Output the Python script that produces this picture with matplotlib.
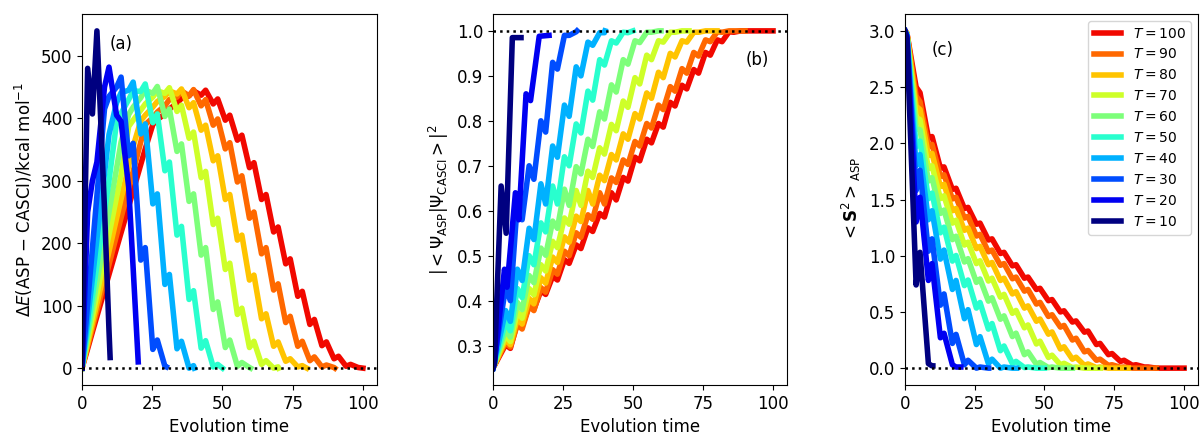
import matplotlib.pyplot as plt

plt.rcParams['xtick.labelsize'] = 12
plt.rcParams['ytick.labelsize'] = 12
plt.rcParams['axes.labelsize'] = 12

T_list = [100, 90, 80, 70, 60, 50, 40, 30, 20, 10]

# ---- panel (a): energy error, shared time grid (bumps / dips of the oscillation)
t_a = [0, 2.0, 3.7, 5.3, 8.0, 9.6, 12.3, 13.9, 16.6, 18.2, 20.9, 22.5, 25.2, 26.8,
       29.5, 31.1, 33.8, 35.4, 38.1, 39.7, 42.4, 44.0, 46.7, 48.3, 51.0, 52.6,
       55.3, 56.9, 59.6, 61.2, 63.9, 65.5, 68.2, 69.8, 72.5, 74.1, 76.8, 78.4,
       81.1, 82.7, 85.4, 87.0, 89.7, 91.3, 94.0, 95.6, 98.3]
dE_100 = [0, 31, 58, 83, 125, 150, 192, 217, 259, 284, 326, 351, 390, 398, 407, 415,
          424, 432, 436, 444, 437, 445, 423, 431, 397, 405, 365, 373, 321, 329, 270,
          278, 218, 226, 167, 175, 115, 123, 70, 78, 36, 42, 15, 19, 3, 6, 1, 0]
dE_90 = [0, 35, 64, 92, 139, 166, 213, 241, 288, 315, 362, 390, 401, 410, 420, 430,
         434, 444, 436, 446, 420, 430, 389, 399, 351, 361, 298, 308, 240, 250, 183,
         193, 125, 135, 73, 83, 35, 43, 12, 18, 2, 5, 1, 0]
dE_80 = [0, 39, 72, 103, 156, 187, 240, 271, 324, 355, 396, 405, 418, 427, 435, 444,
         439, 447, 417, 425, 381, 389, 332, 340, 270, 278, 205, 213, 141, 149, 79,
         87, 35, 42, 11, 15, 2, 4, 0]
dE_70 = [0, 45, 83, 118, 178, 214, 274, 310, 387, 397, 413, 423, 434, 444, 440, 449,
         411, 421, 368, 378, 305, 315, 230, 240, 158, 168, 86, 96, 33, 43, 6, 12, 0,
         2, 0]
dE_60 = [0, 52, 96, 138, 208, 250, 320, 362, 406, 418, 433, 445, 440, 451, 403, 415,
         347, 359, 267, 279, 181, 193, 94, 106, 33, 45, 3, 9, 1, 0]
dE_50 = [0, 62, 115, 165, 250, 300, 394, 408, 430, 444, 443, 455, 393, 407, 316, 330,
         213, 227, 110, 124, 32, 44, 2, 6, 0]
dE_40 = [0, 78, 144, 207, 312, 374, 425, 441, 445, 458, 375, 391, 263, 279, 134, 150,
         31, 43, 0, 4, 0]
dE_30 = [0, 104, 192, 276, 415, 435, 450, 466, 340, 360, 173, 193, 30, 45, 3, 2]
dE_20 = [0, 250, 300, 330, 450, 482, 405, 395, 290, 160, 10]
dE_10 = [0, 480, 407, 540, 255, 60, 17]

# ---- panel (b): overlap, shared time grid (step tops / step ends)
t_b = [0, 4.5, 6.2, 8.7, 10.4, 12.9, 14.6, 17.1, 18.8, 21.3, 23.0, 25.5, 27.2, 29.7,
       31.4, 33.9, 35.6, 38.1, 39.8, 42.3, 44.0, 46.5, 48.2, 50.7, 52.4, 54.9, 56.6,
       59.1, 60.8, 63.3, 65.0, 67.5, 69.2, 71.7, 73.4, 75.9, 77.6, 80.1, 81.8, 84.3,
       86.0, 88.5, 90.2, 92.7, 94.4, 96.9, 98.6]
ov_100 = [0.25, 0.302, 0.294, 0.351, 0.343, 0.389, 0.381, 0.422, 0.414, 0.454, 0.446,
          0.491, 0.483, 0.524, 0.516, 0.562, 0.554, 0.594, 0.586, 0.640, 0.624, 0.674,
          0.666, 0.719, 0.711, 0.759, 0.751, 0.794, 0.786, 0.841, 0.833, 0.879, 0.871,
          0.914, 0.906, 0.952, 0.946, 0.980, 0.976, 0.998, 0.997, 1.0, 1.0, 1.0, 1.0,
          1.0, 1.0, 1.0]
ov_90 = [0.25, 0.307, 0.297, 0.347, 0.337, 0.388, 0.378, 0.429, 0.419, 0.469, 0.459,
         0.510, 0.500, 0.551, 0.541, 0.591, 0.581, 0.640, 0.615, 0.673, 0.663, 0.713,
         0.703, 0.754, 0.744, 0.794, 0.784, 0.835, 0.825, 0.876, 0.866, 0.916, 0.906,
         0.952, 0.944, 0.980, 0.976, 0.998, 0.997, 1.0, 1.0, 1.0, 1.0]
ov_80 = [0.25, 0.314, 0.302, 0.360, 0.348, 0.405, 0.393, 0.451, 0.439, 0.497, 0.485,
         0.542, 0.530, 0.588, 0.576, 0.645, 0.615, 0.679, 0.667, 0.725, 0.713, 0.771,
         0.759, 0.816, 0.804, 0.862, 0.850, 0.908, 0.896, 0.950, 0.942, 0.978, 0.975,
         0.997, 0.997, 1.0, 1.0, 1.0]
ov_70 = [0.25, 0.323, 0.309, 0.375, 0.361, 0.427, 0.413, 0.480, 0.466, 0.532, 0.518,
         0.584, 0.570, 0.645, 0.612, 0.688, 0.674, 0.740, 0.726, 0.792, 0.778, 0.844,
         0.830, 0.896, 0.882, 0.946, 0.936, 0.978, 0.975, 0.997, 0.997, 1.0, 1.0, 1.0]
ov_60 = [0.25, 0.335, 0.319, 0.396, 0.380, 0.456, 0.440, 0.517, 0.501, 0.577, 0.561,
         0.648, 0.612, 0.698, 0.682, 0.759, 0.743, 0.820, 0.804, 0.880, 0.864, 0.936,
         0.926, 0.978, 0.974, 0.997, 0.997, 1.0, 1.0]
ov_50 = [0.25, 0.353, 0.333, 0.427, 0.407, 0.500, 0.480, 0.573, 0.553, 0.655, 0.615,
         0.720, 0.700, 0.793, 0.773, 0.866, 0.846, 0.936, 0.924, 0.978, 0.973, 0.997,
         0.996, 1.0]
ov_40 = [0.25, 0.378, 0.354, 0.470, 0.445, 0.561, 0.536, 0.660, 0.615, 0.744, 0.719,
         0.835, 0.810, 0.920, 0.900, 0.975, 0.968, 0.996, 0.996, 1.0]
ov_30 = [0.25, 0.43, 0.40, 0.62, 0.58, 0.70, 0.67, 0.80, 0.775, 0.93, 0.915, 0.99,
         0.99, 0.998, 1.0]
t_b20 = [0, 0.5, 4.1, 5.0, 8.0, 9.2, 11.8, 13.4, 16.5, 20]
ov_20 = [0.25, 0.26, 0.47, 0.43, 0.64, 0.58, 0.86, 0.845, 0.988, 0.99]
t_b10 = [0, 0.5, 2.9, 4.7, 6.9, 10]
ov_10 = [0.25, 0.26, 0.655, 0.55, 0.985, 0.985]

# ---- panel (c): <S^2>, shared time grid (dips / bumps)
t_c = [0, 0.7, 4.0, 5.4, 8.4, 9.7, 12.7, 14.0, 17.0, 18.3, 21.3, 22.6, 25.6, 26.9,
       29.9, 31.2, 34.2, 35.5, 38.5, 39.8, 42.8, 44.1, 47.1, 48.4, 51.4, 52.7, 55.7,
       57.0, 60.0, 61.3, 64.3, 65.6, 68.6, 69.9, 72.9, 74.2, 77.2, 78.5, 81.5, 82.8,
       85.8, 87.1, 90.1, 91.4, 94.4, 95.7]
s2_100 = [3.0, 2.98, 2.50, 2.45, 2.05, 2.06, 1.78, 1.79, 1.59, 1.60, 1.42, 1.43, 1.28,
          1.29, 1.14, 1.15, 1.02, 1.03, 0.91, 0.92, 0.80, 0.81, 0.70, 0.71, 0.60, 0.61,
          0.50, 0.51, 0.41, 0.42, 0.32, 0.33, 0.21, 0.22, 0.12, 0.13, 0.06, 0.07,
          0.025, 0.03, 0.01, 0.01, 0.0, 0.0, 0.0, 0.0, 0.0]
s2_90 = [3.0, 2.98, 2.42, 2.37, 1.975, 1.99, 1.705, 1.72, 1.505, 1.52, 1.335, 1.35,
         1.175, 1.19, 1.035, 1.05, 0.915, 0.93, 0.795, 0.81, 0.685, 0.70, 0.57, 0.585,
         0.46, 0.475, 0.365, 0.38, 0.25, 0.266, 0.145, 0.157, 0.07, 0.08, 0.025, 0.03,
         0.008, 0.01, 0.0, 0.0, 0.0, 0.0, 0.0]
s2_80 = [3.0, 2.98, 2.33, 2.30, 1.89, 1.91, 1.615, 1.635, 1.40, 1.42, 1.226, 1.246,
         1.063, 1.083, 0.92, 0.94, 0.78, 0.80, 0.66, 0.68, 0.534, 0.554, 0.417, 0.437,
         0.302, 0.322, 0.17, 0.19, 0.08, 0.097, 0.025, 0.037, 0.005, 0.01, 0.0, 0.0,
         0.0, 0.0, 0.0]
s2_70 = [3.0, 2.97, 2.23, 2.21, 1.775, 1.80, 1.508, 1.533, 1.29, 1.315, 1.095, 1.12,
         0.93, 0.955, 0.775, 0.80, 0.631, 0.656, 0.488, 0.513, 0.359, 0.384, 0.215,
         0.24, 0.095, 0.115, 0.03, 0.043, 0.005, 0.01, 0.0, 0.0, 0.0, 0.0, 0.0]
s2_60 = [3.0, 2.97, 2.13, 2.12, 1.664, 1.694, 1.376, 1.406, 1.143, 1.173, 0.944, 0.974,
         0.763, 0.793, 0.596, 0.626, 0.435, 0.465, 0.281, 0.311, 0.12, 0.145, 0.035,
         0.05, 0.005, 0.01, 0.0, 0.0, 0.0]
s2_50 = [3.0, 2.97, 1.97, 2.02, 1.507, 1.557, 1.204, 1.254, 0.952, 1.002, 0.734, 0.784,
         0.534, 0.584, 0.347, 0.397, 0.155, 0.197, 0.04, 0.06, 0.005, 0.01, 0.0, 0.0,
         0.0]
s2_40 = [3.0, 2.96, 1.80, 1.90, 1.32, 1.40, 0.97, 1.05, 0.70, 0.78, 0.44, 0.52, 0.21,
         0.28, 0.04, 0.08, 0.0, 0.01, 0.0, 0.0, 0.0]
s2_30 = [3.0, 2.96, 1.58, 1.76, 1.04, 1.15, 0.56, 0.66, 0.22, 0.30, 0.03, 0.07, 0.0,
         0.01, 0.0, 0.0]
s2_20 = [3.0, 2.95, 1.30, 1.52, 0.78, 0.93, 0.27, 0.31, 0.03, 0.01, 0.01]
s2_10 = [3.0, 2.93, 0.74, 1.03, 0.04, 0.02, 0.02]

dE = {100: dE_100, 90: dE_90, 80: dE_80, 70: dE_70, 60: dE_60,
      50: dE_50, 40: dE_40, 30: dE_30, 20: dE_20, 10: dE_10}
ov = {100: ov_100, 90: ov_90, 80: ov_80, 70: ov_70, 60: ov_60,
      50: ov_50, 40: ov_40, 30: ov_30, 20: ov_20, 10: ov_10}
s2 = {100: s2_100, 90: s2_90, 80: s2_80, 70: s2_70, 60: s2_60,
      50: s2_50, 40: s2_40, 30: s2_30, 20: s2_20, 10: s2_10}
ov_times = {20: t_b20, 10: t_b10}


def times_for(grid, T):
    return [x for x in grid if x < T] + [T]


fig = plt.figure(figsize=(12.01, 4.34), dpi=100)
ax_a = fig.add_axes([0.0683, 0.1129, 0.2456, 0.8548])
ax_b = fig.add_axes([0.4105, 0.1129, 0.2448, 0.8548])
ax_c = fig.add_axes([0.7535, 0.1129, 0.2440, 0.8548])

cmap = plt.get_cmap('jet')
for T in T_list:
    color = cmap((T - 10) / 100)
    kw = dict(color=color, lw=4, solid_joinstyle='round')
    ta = times_for(t_a, T)
    ax_a.plot(*zip(*zip(ta, dE[T], strict=True)), **kw)
    tb = ov_times.get(T, times_for(t_b, T))
    ax_b.plot(*zip(*zip(tb, ov[T], strict=True)), **kw)
    tc = times_for(t_c, T)
    ax_c.plot(*zip(*zip(tc, s2[T], strict=True)), label=f'$T = {T}$', **kw)

ax_a.axhline(0, color='k', ls=':', lw=1.8, zorder=3)
ax_b.axhline(1.0, color='k', ls=':', lw=1.8, zorder=3)
ax_c.axhline(0, color='k', ls=':', lw=1.8, zorder=3)

for ax in (ax_a, ax_b, ax_c):
    ax.set_xlim(0, 105)
    ax.set_xticks([0, 25, 50, 75, 100])
    ax.set_xlabel('Evolution time')

ax_a.set_ylim(-27, 567)
ax_a.set_yticks([0, 100, 200, 300, 400, 500])
ax_a.set_ylabel(r'$\Delta E$(ASP $-$ CASCI)/kcal mol$^{-1}$')
ax_a.text(0.132, 0.92, '(a)', transform=ax_a.transAxes, fontsize=12,
          ha='center', va='center')

ax_b.set_ylim(0.2125, 1.0375)
ax_b.set_yticks([0.3, 0.4, 0.5, 0.6, 0.7, 0.8, 0.9, 1.0])
ax_b.set_ylabel(r'$|<\Psi_{\mathrm{ASP}}|\Psi_{\mathrm{CASCI}}>|^2$')
ax_b.text(0.898, 0.876, '(b)', transform=ax_b.transAxes, fontsize=12,
          ha='center', va='center')

ax_c.set_ylim(-0.15, 3.15)
ax_c.set_yticks([0.0, 0.5, 1.0, 1.5, 2.0, 2.5, 3.0])
ax_c.set_ylabel(r'$<\mathbf{S}^2>_{\mathrm{ASP}}$')
ax_c.text(0.13, 0.903, '(c)', transform=ax_c.transAxes, fontsize=12,
          ha='center', va='center')
ax_c.legend(loc='upper right', fontsize=10)

fig.savefig('out.png', dpi=100)
